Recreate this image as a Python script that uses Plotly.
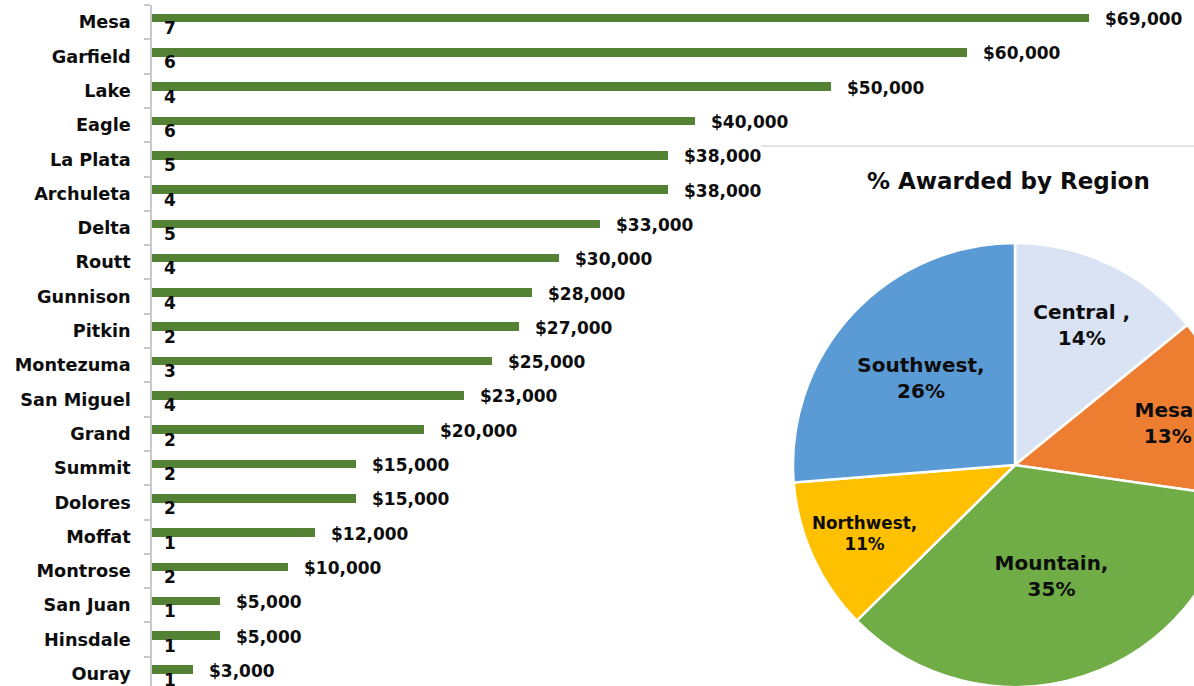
import plotly.graph_objects as go

# ---------------- data ----------------
counties = ["Mesa", "Garfield", "Lake", "Eagle", "La Plata", "Archuleta", "Delta",
            "Routt", "Gunnison", "Pitkin", "Montezuma", "San Miguel", "Grand",
            "Summit", "Dolores", "Moffat", "Montrose", "San Juan", "Hinsdale", "Ouray"]
amounts = [69000, 60000, 50000, 40000, 38000, 38000, 33000, 30000, 28000, 27000,
           25000, 23000, 20000, 15000, 15000, 12000, 10000, 5000, 5000, 3000]
counts = [7, 6, 4, 6, 5, 4, 5, 4, 4, 2, 3, 4, 2, 2, 2, 1, 2, 1, 1, 1]

regions = ["Central ", "Mesa", "Mountain", "Northwest", "Southwest"]
region_pct = [14, 13, 35, 11, 26]
region_colors = ["#DAE3F3", "#ED7D31", "#70AD47", "#FFC000", "#5B9BD5"]

pie_title = "% Awarded by Region"

# ---------------- style ----------------
FONT = "DejaVu Sans"
TXT = "#0d0d0d"
BAR_COLOR = "#548235"
AXIS_COLOR = "#C8C8C8"

W, H = 1240, 700
ML, MR, MT, MB = 152, 0, 5, 0
PW, PH = W - ML - MR, H - MT - MB


def px_x(p):
    return (p - ML) / PW


def px_y(p):
    return 1 - (p - MT) / PH


fig = go.Figure()

fig.add_trace(go.Bar(
    x=amounts, y=counties, orientation="h",
    marker=dict(color=BAR_COLOR, line=dict(width=0)),
    width=0.25, offset=-0.245,
    hoverinfo="skip", showlegend=False,
))

annotations = []
for c, a, n in zip(counties, amounts, counts):
    annotations.append(dict(
        x=a, y=c, xref="x", yref="y", text=f"${a:,}", showarrow=False,
        xanchor="left", yanchor="middle", xshift=14, yshift=3,
        font=dict(family=FONT, size=17, color=TXT, weight="bold"),
    ))
    annotations.append(dict(
        x=0, y=c, xref="x", yref="y", text=str(n), showarrow=False,
        xanchor="left", yanchor="middle", xshift=10, yshift=-6,
        font=dict(family=FONT, size=17, color=TXT, weight="bold"),
    ))

annotations.append(dict(
    x=px_x(1008), y=px_y(181), xref="paper", yref="paper", text=pie_title,
    showarrow=False, xanchor="center", yanchor="middle",
    font=dict(family=FONT, size=23, color=TXT, weight="bold"),
))

pie_cx, pie_cy, pie_r = 1015, 465, 222
fig.add_trace(go.Pie(
    labels=regions, values=region_pct,
    text=[f"{r},<br>{v}%" for r, v in zip(regions, region_pct)],
    textinfo="text", textposition="inside", insidetextorientation="horizontal",
    textfont=dict(family=FONT, size=20, color=TXT, weight="bold"),
    marker=dict(colors=region_colors, line=dict(color="white", width=2.5)),
    sort=False, direction="clockwise", rotation=0,
    domain=dict(x=[px_x(pie_cx - pie_r), px_x(pie_cx + pie_r)],
                y=[px_y(pie_cy + pie_r), px_y(pie_cy - pie_r)]),
    showlegend=False, hoverinfo="skip",
))

fig.update_layout(
    width=W, height=H,
    margin=dict(l=ML, r=MR, t=MT, b=MB, pad=0),
    paper_bgcolor="white", plot_bgcolor="white",
    bargap=0,
    annotations=annotations,
    shapes=[dict(type="line", xref="paper", yref="paper",
                 x0=px_x(761), x1=1, y0=px_y(146), y1=px_y(146),
                 line=dict(color="#D9D9D9", width=1.5))],
    xaxis=dict(range=[0, PW / 0.01358], visible=False, fixedrange=True),
    yaxis=dict(
        type="category", categoryorder="array", categoryarray=counties,
        range=[-0.5 + PH / 34.3, -0.5],
        showline=True, linecolor=AXIS_COLOR, linewidth=1.5,
        ticks="outside", ticklen=6, tickcolor=AXIS_COLOR, tickwidth=1.5,
        tickson="boundaries", ticklabelstandoff=16, showgrid=False,
        zeroline=False,
        tickfont=dict(family=FONT, size=17.7, color=TXT, weight="bold"),
        fixedrange=True,
    ),
)

fig.write_html(
    "out.html",
    config={"displayModeBar": False},
    post_script=("document.body.style.margin='0';"
                 "document.body.style.overflow='hidden';"
                 "document.documentElement.style.overflow='hidden';"),
)
